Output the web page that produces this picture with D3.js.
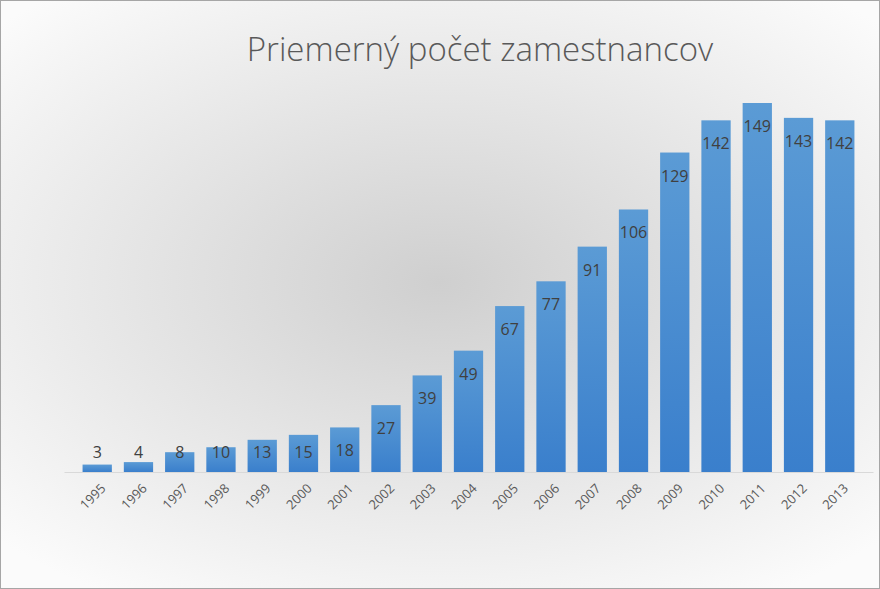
<!DOCTYPE html>
<html><head><meta charset="utf-8">
<script src="https://cdn.jsdelivr.net/npm/d3@7"></script>
<style>body{margin:0;}svg{display:block;}</style>
</head><body>
<svg id="c" width="880" height="589"></svg>
<script>
const years = ["1995","1996","1997","1998","1999","2000","2001","2002","2003","2004","2005","2006","2007","2008","2009","2010","2011","2012","2013"];
const values = [3,4,8,10,13,15,18,27,39,49,67,77,91,106,129,142,149,143,142];
const title = "Priemerný počet zamestnancov";

const svg = d3.select("#c");
const defs = svg.append("defs");
const bg = defs.append("radialGradient").attr("id","bg").attr("cx","50%").attr("cy","48%").attr("r","70%")
  .attr("gradientTransform","translate(0.5,0.48) scale(1,0.9) translate(-0.5,-0.48)");
bg.append("stop").attr("offset","0%").attr("stop-color","#cfcfcf");
bg.append("stop").attr("offset","100%").attr("stop-color","#fbfbfb");
const bar = defs.append("linearGradient").attr("id","bar").attr("x1",0).attr("y1",0).attr("x2",0).attr("y2",1);
bar.append("stop").attr("offset","0%").attr("stop-color","#5b9bd5");
bar.append("stop").attr("offset","100%").attr("stop-color","#3a7fcc");

svg.append("rect").attr("x",0.5).attr("y",0.5).attr("width",879).attr("height",588)
  .attr("fill","url(#bg)").attr("stroke","#a6a6a6");

const x = d3.scaleBand().domain(years).range([64,873]).paddingInner(0.29).paddingOuter(0.45);
const y = d3.scaleLinear().domain([0,149]).range([472,103]);

svg.append("text").attr("x",480).attr("y",61).attr("text-anchor","middle")
  .attr("font-family","Open Sans, sans-serif").attr("font-weight",300).attr("font-size",33)
  .attr("fill","#595959").text(title);

const g = svg.append("g");
g.selectAll("rect").data(values).join("rect")
  .attr("x",(d,i)=>x(years[i])).attr("width",x.bandwidth())
  .attr("y",d=>y(d)).attr("height",d=>y(0)-y(d)).attr("fill","url(#bar)");

g.selectAll("text.v").data(values).join("text").attr("class","v")
  .attr("x",(d,i)=>x(years[i])+x.bandwidth()/2)
  .attr("y",d=>Math.min(y(d)+23,452)+6).attr("text-anchor","middle")
  .attr("font-family","Open Sans, sans-serif").attr("font-size",16).attr("fill","#404040")
  .text(d=>d);

const axis = d3.axisBottom(x).tickSize(0).tickPadding(0);
const ax = svg.append("g").attr("transform","translate(0,472)").call(axis);
ax.select(".domain").attr("stroke","#d9d9d9");
ax.selectAll("text").attr("font-family","Open Sans, sans-serif").attr("font-size",13).attr("fill","#595959")
  .attr("text-anchor","end").attr("y",0).attr("dy","0.35em")
  .attr("transform","translate(6,14) rotate(-45)");
</script>
</body></html>
